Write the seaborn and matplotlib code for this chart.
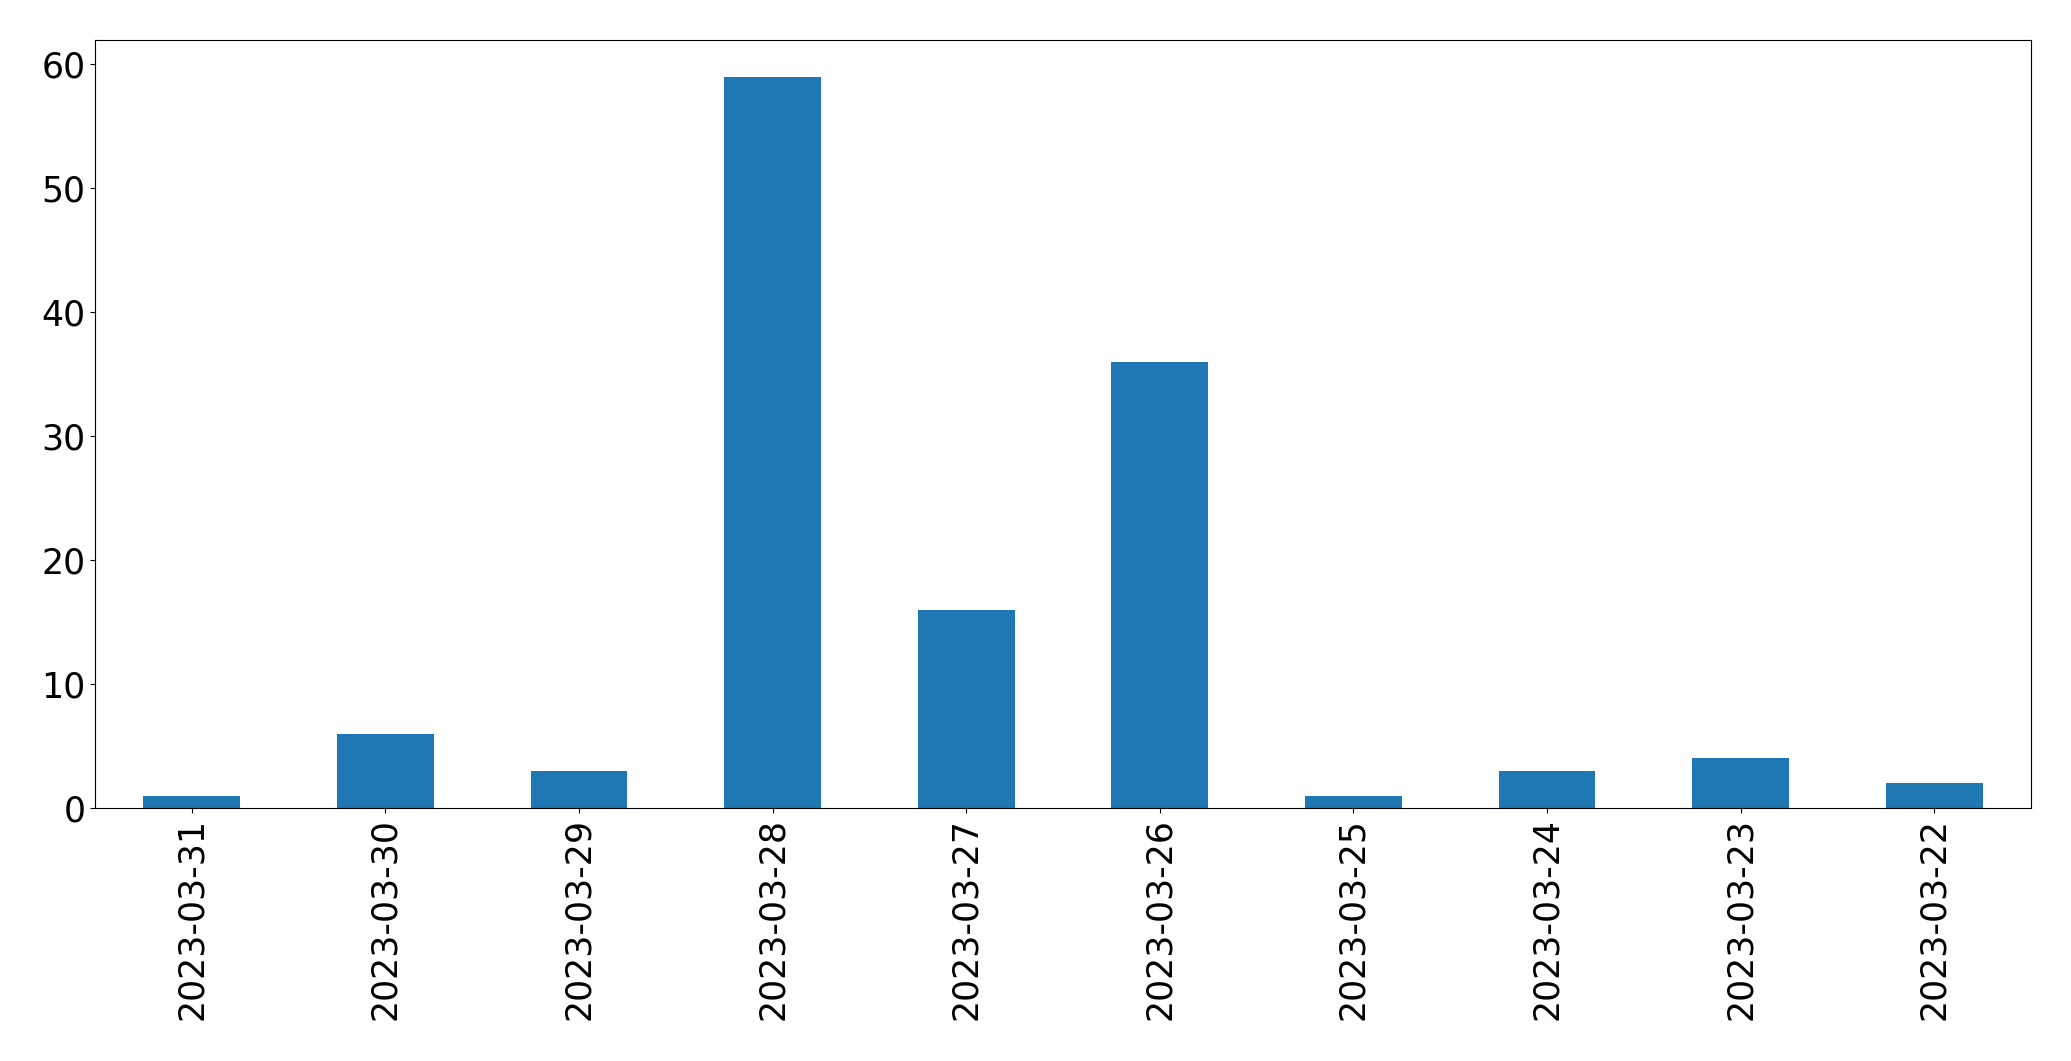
import matplotlib
matplotlib.use("Agg")
import matplotlib.pyplot as plt
import pandas as pd
import seaborn as sns

dates = ['2023-03-31', '2023-03-30', '2023-03-29', '2023-03-28', '2023-03-27',
         '2023-03-26', '2023-03-25', '2023-03-24', '2023-03-23', '2023-03-22']
counts = [1, 6, 3, 59, 16, 36, 1, 3, 4, 2]

df = pd.DataFrame({'date': dates, 'count': counts})

plt.rcParams['font.family'] = ['DejaVu Sans']
plt.rcParams['font.size'] = 25

fig = plt.figure(figsize=(20.71, 10.61), dpi=100)
ax = fig.add_axes([0.0459, 0.2385, 0.9348, 0.7238])
sns.barplot(data=df, x='date', y='count', order=dates, color='#1f77b4',
            saturation=1, width=0.5, linewidth=0, ax=ax)
ax.set_xlim(-0.5, len(dates) - 0.5)
ax.set_xlabel('')
ax.set_ylabel('')
ax.tick_params(axis='x', labelrotation=90)
ax.tick_params(labelsize=25)

fig.savefig('out.png', dpi=100)
